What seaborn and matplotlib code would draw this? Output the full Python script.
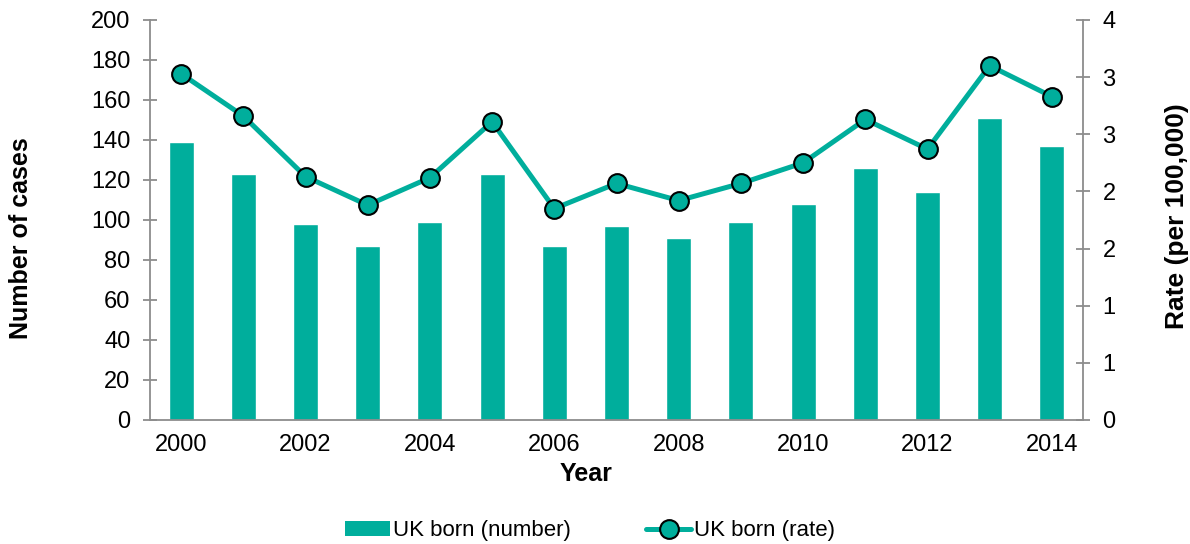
import numpy as np
import pandas as pd
import matplotlib
matplotlib.use("Agg")
import matplotlib.pyplot as plt
import seaborn as sns
from matplotlib.lines import Line2D
from matplotlib.patches import Patch

# Annual counts and rates for UK-born cases
years = [2000, 2001, 2002, 2003, 2004, 2005, 2006, 2007, 2008, 2009,
         2010, 2011, 2012, 2013, 2014]
cases = [139, 123, 98, 87, 99, 123, 87, 97, 91, 99, 108, 126, 114, 151, 137]
rates = [3.03, 2.66, 2.13, 1.88, 2.12, 2.61, 1.85, 2.07, 1.92, 2.07,
         2.25, 2.63, 2.37, 3.10, 2.83]

left_ticks = [0, 20, 40, 60, 80, 100, 120, 140, 160, 180, 200]
right_ticks = [0, 0.5, 1.0, 1.5, 2.0, 2.5, 3.0, 3.5]
right_tick_labels = ["0", "1", "1", "2", "2", "3", "3", "4"]

bar_label = "UK born (number)"
line_label = "UK born (rate)"

TEAL = "#00AE9C"
GREY = "#8C8C8C"

sns.set_theme(style="white")
plt.rcParams["font.family"] = ["Liberation Sans", "DejaVu Sans"]
plt.rcParams["text.color"] = "black"
plt.rcParams["axes.labelcolor"] = "black"
plt.rcParams["xtick.labelcolor"] = "black"
plt.rcParams["ytick.labelcolor"] = "black"

df = pd.DataFrame({"Year": [str(y) for y in years], "Cases": cases, "Rate": rates})
order = df["Year"].tolist()

fig = plt.figure(figsize=(11.9, 5.44), dpi=100)
ax = fig.add_axes([150 / 1190, 124 / 544, 933 / 1190, 400 / 544])

sns.barplot(data=df, x="Year", y="Cases", order=order, color=TEAL,
            saturation=1, width=0.4, ax=ax)

ax2 = ax.twinx()
sns.pointplot(data=df, x="Year", y="Rate", order=order, color=TEAL,
              markers="o", markersize=13.5, linewidth=3.6,
              markeredgecolor="black", markeredgewidth=1.5,
              ax=ax2)
for ln in ax2.lines:
    ln.set_markerfacecolor(TEAL)
    ln.set_markeredgecolor("black")
    ln.set_markeredgewidth(1.5)

n = len(years)
ax.set_xlim(-0.5, n - 0.5)
ax2.set_xlim(-0.5, n - 0.5)
ax.set_ylim(0, 200)
ax2.set_ylim(0, 3.5)

# Left axis
ax.set_yticks(left_ticks)
ax.set_yticklabels([str(v) for v in left_ticks], fontsize=17)
# Right axis
ax2.set_yticks(right_ticks)
ax2.set_yticklabels(right_tick_labels, fontsize=17)

# x: tick marks at category boundaries, labels every second year at centres
ax.set_xticks(np.arange(-0.5, n, 1.0))
ax.set_xticklabels([])
ax.set_xticks(np.arange(0, n, 2), minor=True)
ax.set_xticklabels([str(y) for y in years[::2]], minor=True, fontsize=17)
ax.tick_params(axis="x", which="minor", length=0, pad=10)
ax.tick_params(axis="x", which="major", length=10, width=1.3, color=GREY,
               direction="inout")
ax.tick_params(axis="y", length=10, width=1.3, color=GREY, direction="inout",
               pad=9)
ax2.tick_params(axis="y", length=10, width=1.3, color=GREY, direction="inout",
                pad=9)

for a in (ax, ax2):
    a.spines["top"].set_visible(False)
    a.grid(False)
ax.spines["right"].set_visible(False)
ax2.spines["left"].set_visible(False)
ax.spines["left"].set_color(GREY)
ax.spines["left"].set_linewidth(1.3)
ax.spines["bottom"].set_color(GREY)
ax.spines["bottom"].set_linewidth(1.3)
ax2.spines["right"].set_color(GREY)
ax2.spines["right"].set_linewidth(1.3)
ax2.spines["bottom"].set_visible(False)

ax.set_xlabel("Year", fontsize=18, fontweight="bold")
ax.xaxis.set_label_coords(0.467, -0.105)
ax.set_ylabel("Number of cases", fontsize=18, fontweight="bold")
ax.yaxis.set_label_coords(-0.125, 0.455)
ax2.set_ylabel("Rate (per 100,000)", fontsize=19, fontweight="bold")
ax2.yaxis.set_label_coords(1.088, 0.51)

handles = [
    Patch(facecolor=TEAL, edgecolor="none", label=bar_label),
    Line2D([0], [0], color=TEAL, lw=3.6, marker="o", markersize=13.5,
           markerfacecolor=TEAL, markeredgecolor="black", markeredgewidth=1.5,
           label=line_label),
]
fig.legend(handles=handles, loc="center", bbox_to_anchor=(0.496, 0.024),
           ncol=2, frameon=False, fontsize=16, columnspacing=3.4,
           handlelength=2.0, handletextpad=0.15)

fig.savefig("out.png", dpi=100)
